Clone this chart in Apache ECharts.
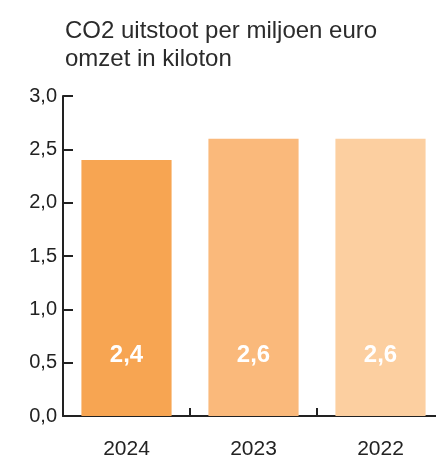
<!DOCTYPE html>
<html>
<head>
<meta charset="utf-8">
<script src="https://cdn.jsdelivr.net/npm/echarts@6/dist/echarts.min.js"></script>
<style>
  html, body { margin: 0; padding: 0; background: #fff; overflow: hidden; }
  /* the plot runs past the right edge of the window, as in the original */
  #chart { width: 444px; height: 460px; }
</style>
</head>
<body>
<div id="chart"></div>
<script>
  // data
  var years = ['2024', '2023', '2022'];
  var values = [2.4, 2.6, 2.6];
  var barColors = ['#F7A552', '#FAB97B', '#FCCFA0'];
  var yTicks = [0, 0.5, 1.0, 1.5, 2.0, 2.5, 3.0];

  var chart = echarts.init(document.getElementById('chart'));
  chart.setOption({
    animation: false,
    title: {
      text: 'CO2 uitstoot per miljoen euro\nomzet in kiloton',
      left: 60,
      top: 12,
      textStyle: {
        fontFamily: 'Liberation Sans',
        fontSize: 24,
        fontWeight: 'normal',
        color: '#2b2b2b',
        lineHeight: 28
      }
    },
    grid: {
      left: 63,
      right: 0,
      top: 96,
      bottom: 44
    },
    xAxis: {
      type: 'category',
      data: years,
      axisLine: { lineStyle: { color: '#222', width: 2 } },
      axisTick: { show: true, inside: true, length: 8, lineStyle: { color: '#222', width: 2 } },
      axisLabel: {
        fontFamily: 'Liberation Sans',
        fontSize: 21,
        color: '#222',
        margin: 23
      }
    },
    yAxis: {
      type: 'value',
      min: 0,
      max: 3,
      interval: 0.5,
      axisLine: { show: true, lineStyle: { color: '#222', width: 2 } },
      axisTick: { show: true, inside: true, length: 10, lineStyle: { color: '#222', width: 2 } },
      splitLine: { show: false },
      axisLabel: {
        fontFamily: 'Liberation Sans',
        fontSize: 20,
        color: '#222',
        margin: 6,
        formatter: function (v) {
          return yTicks.indexOf(v) >= 0 ? v.toFixed(1).replace('.', ',') : '';
        }
      }
    },
    series: [{
      type: 'bar',
      barWidth: '71%',
      data: values.map(function (v, i) {
        return { value: v, itemStyle: { color: barColors[i] } };
      }),
      label: {
        show: true,
        position: 'insideBottom',
        distance: 49,
        fontFamily: 'Liberation Sans',
        fontSize: 24,
        fontWeight: 'bold',
        color: '#fff',
        formatter: function (p) {
          return p.value.toFixed(1).replace('.', ',');
        }
      }
    }]
  });
</script>
</body>
</html>
